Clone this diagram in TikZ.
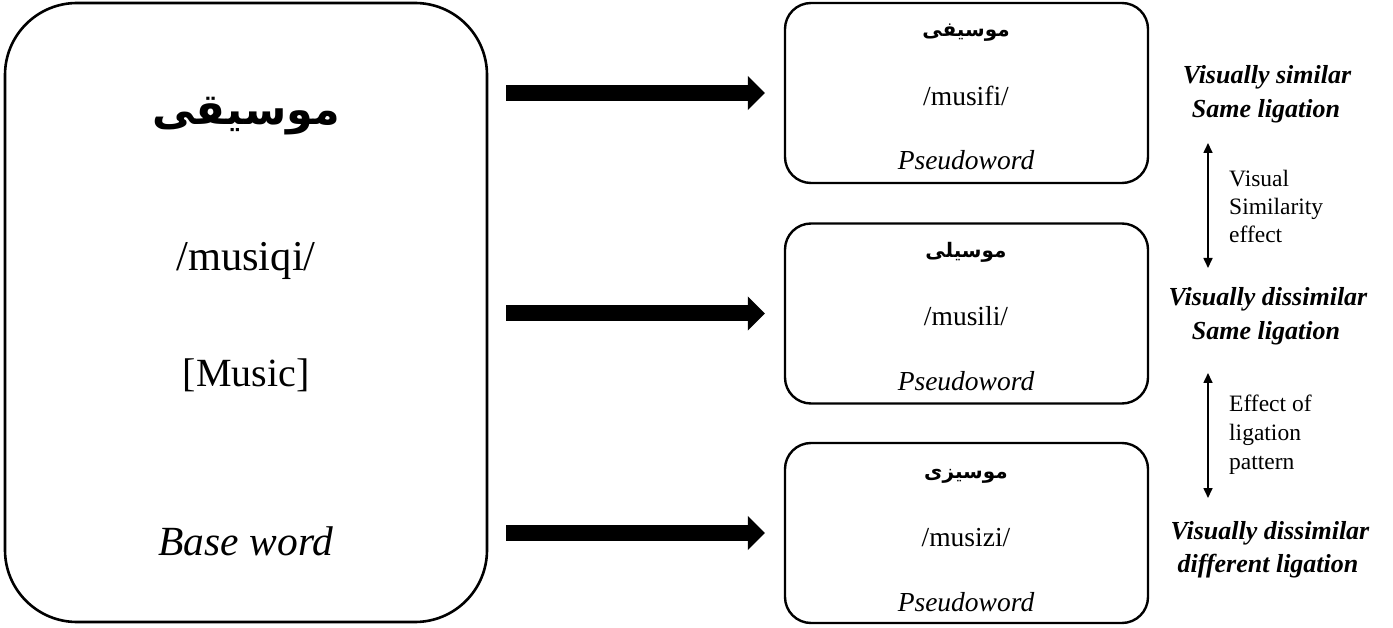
\documentclass[tikz,border=0pt]{standalone}
\usepackage{fontspec}
\setmainfont{Liberation Serif}
\newfontfamily\arabicfont[Script=Arabic]{DejaVu Sans}
\TeXXeTstate=1
\usetikzlibrary{arrows.meta}
\tikzset{
  bigbox/.style={draw, line width=2.6pt, rounded corners=72pt, minimum width=482pt, minimum height=619pt, inner sep=0pt},
  smallbox/.style={draw, line width=2.4pt, rounded corners=26pt, minimum width=363pt, minimum height=180pt, inner sep=0pt},
  blockarrow/.style={line width=16pt, -{Triangle[length=17pt,width=33pt]}, shorten <=18pt, shorten >=19pt},
  dblarrow/.style={line width=1.6pt, {Triangle[length=10pt,width=9pt]}-{Triangle[length=10pt,width=9pt]}},
  bigtxt/.style={anchor=base, inner sep=0pt, font=\fontsize{40}{48}\selectfont},
  smalltxt/.style={anchor=base, inner sep=0pt, font=\fontsize{27.5}{32}\selectfont},
  bigar/.style={anchor=base, inner sep=0pt, font=\fontsize{43}{52}\arabicfont\bfseries},
  smallar/.style={anchor=base, inner sep=0pt, font=\fontsize{20}{24}\arabicfont\bfseries},
  cond/.style={anchor=base, inner sep=0pt, font=\fontsize{26}{30}\selectfont\bfseries\itshape},
  eff/.style={anchor=base west, inner sep=0pt, font=\fontsize{23.5}{28}\selectfont},
}
\begin{document}
\begin{tikzpicture}[x=1pt,y=-1pt]
\useasboundingbox (0,0) rectangle (1393,628);
% main boxes
\node[bigbox] (base) at (246,312.5) {};
\node[smallbox] (p1) at (966.5,93) {};
\node[smallbox] (p2) at (966.5,313.5) {};
\node[smallbox] (p3) at (966.5,533) {};
% base word texts
\node[bigar] (bw) at (246,125) {\beginR موسیقی\endR};
\node[bigtxt, font=\fontsize{42.5}{50}\selectfont] (bipa) at (246,271) {/musiqi/};
\node[bigtxt] (bgl) at (246,387) {[Music]};
\node[bigtxt, font=\fontsize{41.5}{50}\selectfont] (blab) at (246,555) {\itshape Base word};
% pseudoword 1
\node[smallar] (w1) at (966,37) {\beginR موسیفی\endR};
\node[smalltxt] (i1) at (966,106) {/musifi/};
\node[smalltxt] (l1) at (966,170) {\itshape Pseudoword};
% pseudoword 2
\node[smallar] (w2) at (966,258) {\beginR موسیلی\endR};
\node[smalltxt] (i2) at (966,326) {/musili/};
\node[smalltxt] (l2) at (966,391) {\itshape Pseudoword};
% pseudoword 3
\node[smallar] (w3) at (966,478) {\beginR موسیزی\endR};
\node[smalltxt] (i3) at (966,546) {/musizi/};
\node[smalltxt] (l3) at (966,611) {\itshape Pseudoword};
% block arrows
\draw[blockarrow] (base.east |- p1) -- (p1.west);
\draw[blockarrow] (base.east |- p2) -- (p2.west);
\draw[blockarrow] (base.east |- p3) -- (p3.west);
% condition labels
\node[cond] (c1a) at (1267,84) {Visually similar};
\node[cond] (c1b) at (1266,118) {Same ligation};
\node[cond] (c2a) at (1268,306) {Visually dissimilar};
\node[cond] (c2b) at (1266,340) {Same ligation};
\node[cond] (c3a) at (1270,539) {Visually dissimilar};
\node[cond] (c3b) at (1268,572) {different ligation};
% effect arrows
\coordinate (e1t) at (1208,143);
\coordinate (e1b) at (1208,268);
\coordinate (e2t) at (1208,373);
\coordinate (e2b) at (1208,498);
\draw[dblarrow] (e1t) -- (e1b);
\draw[dblarrow] (e2t) -- (e2b);
\node[eff] (v1) at (1229,187) {Visual};
\node[eff] (v2) at (1229,215) {Similarity};
\node[eff] (v3) at (1229,243) {effect};
\node[eff] (f1) at (1229,411) {Effect of};
\node[eff] (f2) at (1229,440) {ligation};
\node[eff] (f3) at (1229,469) {pattern};
\end{tikzpicture}
\end{document}
